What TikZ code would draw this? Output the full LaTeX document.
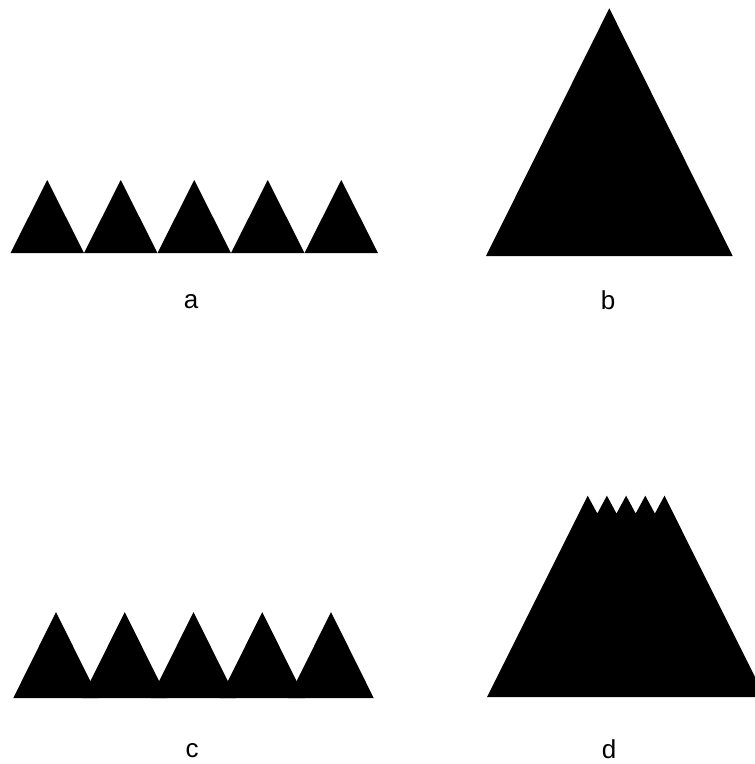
\documentclass[tikz,border=0pt]{standalone}
\usepackage{fontspec}
\setmainfont{Liberation Sans}
\begin{document}
\begin{tikzpicture}[x=1pt,y=-1pt,
  solidshape/.style={fill=black,draw=none},
  lab/.style={font=\fontsize{26}{30}\selectfont,inner sep=0pt,anchor=center}]
\useasboundingbox (0,0) rectangle (755,764);
\clip (0,0) rectangle (755,764);
% panel a
\foreach \i in {0,...,4}{
  \fill[solidshape] ({10.5+73.5*\i},253) -- ({47.25+73.5*\i},180) -- ({84+73.5*\i},253) -- cycle;
}
% panel b
\fill[solidshape] (486,256) -- (609.3,8.3) -- (732.7,256) -- cycle;
% panel c
\foreach \i in {0,...,4}{
  \fill[solidshape] ({13.3+68.75*\i},698) -- ({56+68.75*\i},612) -- ({98.7+68.75*\i},698) -- cycle;
}
% panel d
\fill[solidshape] (487,697) -- (587.7,495.7) -- (597.3,513.5) -- (606.9,495.7) -- (616.5,513.5)
  -- (626.1,495.7) -- (635.7,513.5) -- (645.3,495.7) -- (654.9,513.5) -- (664.5,495.7)
  -- (765,697) -- cycle;
% labels
\node[lab] (la) at (191,302) {a};
\node[lab] (lb) at (608,300) {b};
\node[lab] (lc) at (192,751) {c};
\node[lab] (ld) at (609,749) {d};
\end{tikzpicture}
\end{document}
